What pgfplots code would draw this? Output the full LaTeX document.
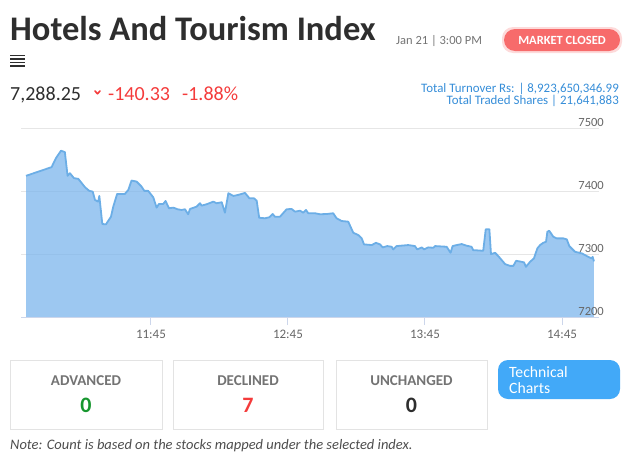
\documentclass[border=0pt]{standalone}
\usepackage{pgfplots}
\pgfplotsset{compat=1.18}
\usepackage{pgfplotstable}
\usepackage{fontspec}
\setmainfont{Carlito}
\definecolor{titlec}{HTML}{2E2E2E}
\definecolor{redc}{HTML}{F43B3B}
\definecolor{grayc}{HTML}{737373}
\definecolor{bluec}{HTML}{358DD8}
\definecolor{badgec}{HTML}{F76B6B}
\definecolor{btnc}{HTML}{42A9F8}
\definecolor{greenc}{HTML}{17962F}
\definecolor{boxc}{HTML}{E3E3E3}
\definecolor{gridc}{HTML}{E6E6E6}
\definecolor{axisc}{HTML}{CCD6EB}
\definecolor{fillc}{HTML}{7CB5EC}
\definecolor{linec}{HTML}{6CAEE6}
\definecolor{labc}{HTML}{666666}
\pgfplotstableread{
t v
650.3 7424.1
661.5 7437.9
663.4 7452.2
665.6 7463.9
667.3 7461.8
668.5 7424.1
669.5 7428.3
671.3 7420.4
673.2 7419.3
676.1 7406.1
678.0 7400.2
679.5 7399.1
680.5 7385.8
681.9 7383.1
682.4 7392.2
683.7 7347.6
685.3 7347.1
687.5 7359.2
688.5 7375.2
690.2 7395.4
693.6 7395.4
695.1 7401.8
696.5 7416.6
698.7 7415.0
700.9 7407.0
702.1 7400.2
703.8 7400.2
706.0 7390.1
707.5 7373.6
708.5 7379.5
710.4 7379.5
711.4 7384.2
712.9 7372.6
714.8 7373.6
716.7 7371.0
718.4 7369.9
719.9 7371.0
721.3 7363.1
722.1 7371.5
725.0 7375.2
726.5 7380.6
727.2 7376.8
729.4 7379.0
732.3 7383.1
733.8 7380.6
736.0 7382.2
737.4 7365.6
738.9 7396.5
741.1 7392.2
743.2 7393.8
746.2 7397.0
748.1 7388.5
750.1 7388.5
751.3 7384.7
752.4 7357.6
754.9 7356.7
756.8 7358.3
758.3 7363.5
759.3 7359.2
761.5 7359.2
764.4 7371.0
766.6 7371.5
768.1 7367.2
770.3 7368.8
771.7 7365.6
772.9 7369.9
773.9 7364.7
776.8 7364.7
779.0 7363.1
782.0 7363.5
784.8 7364.7
786.3 7356.7
788.5 7352.4
791.4 7351.3
793.6 7333.8
795.8 7330.1
797.3 7324.8
798.3 7315.3
801.7 7314.2
803.5 7317.8
805.3 7315.3
806.5 7310.5
808.5 7312.6
810.4 7311.5
811.1 7307.3
812.6 7312.6
817.7 7314.2
820.6 7312.6
821.6 7307.3
823.6 7310.5
824.6 7307.3
826.4 7310.5
828.6 7309.9
829.4 7312.6
834.5 7311.5
836.2 7301.9
837.1 7312.6
838.9 7314.2
841.1 7315.8
843.3 7313.1
845.4 7311.5
846.1 7306.2
850.5 7305.1
851.6 7339.2
853.2 7339.2
853.9 7299.8
855.7 7301.9
857.1 7296.7
860.1 7283.9
862.2 7281.2
863.7 7281.2
864.9 7289.2
867.4 7287.6
868.4 7286.6
869.2 7279.6
871.0 7287.6
872.7 7293.0
874.2 7308.9
875.4 7314.2
876.8 7317.8
878.0 7319.4
878.6 7335.4
879.4 7336.9
881.2 7327.4
882.7 7324.8
885.6 7324.8
887.1 7323.2
888.2 7312.6
890.7 7303.5
893.7 7301.0
896.5 7295.5
898.0 7293.0
898.4 7295.5
899.0 7288.3
}\pricedata
\pgfplotsset{chartgeom/.style={at={(21pt,-317pt)},anchor=south west,scale only axis,
  width=578pt,height=189pt,
  xmin=648.1,xmax=901.2,ymin=7200,ymax=7500,
  axis line style={draw=none},
  ytick={7200,7300,7400,7500},ytick style={draw=none}}}
\begin{document}
\begin{tikzpicture}[x=1pt,y=1pt]
\useasboundingbox (0,0) rectangle (629,-461);
% header
\node[anchor=base west,inner sep=0,text=titlec,font=\fontsize{34.5}{40}\selectfont\bfseries] at (10,-40) {Hotels And Tourism Index};
\foreach \yy in {55.5,59,62.5,66} \draw[titlec,line width=1.7pt] (10,-\yy) -- (25,-\yy);
\node[anchor=base west,inner sep=0,text=titlec,font=\fontsize{20}{24}\selectfont] at (10,-100.5) {7,288.25};
\draw[redc,line width=1.6pt,line cap=round,line join=round] (95,-91) -- (97.5,-93.8) -- (100,-91);
\node[anchor=base west,inner sep=0,text=redc,font=\fontsize{20}{24}\selectfont] at (108,-100.5) {-140.33};
\node[anchor=base west,inner sep=0,text=redc,font=\fontsize{20}{24}\selectfont] at (182,-100.5) {-1.88\%};
\node[anchor=base west,inner sep=0,text=grayc,font=\fontsize{12.5}{15}\selectfont] at (396,-44) {Jan 21 | 3:00 PM};
\fill[badgec!25,rounded corners=11pt] (502,-27) rectangle (622,-53);
\fill[badgec,rounded corners=11pt] (504,-29) rectangle (620,-51);
\node[anchor=base,inner sep=0,text=white,font=\fontsize{12.5}{15}\selectfont\bfseries] at (562,-44) {MARKET CLOSED};
\node[anchor=base east,inner sep=0,text=bluec,font=\fontsize{12.9}{15}\selectfont] at (619,-92) {Total Turnover Rs: | 8,923,650,346.99};
\node[anchor=base east,inner sep=0,text=bluec,font=\fontsize{12.9}{15}\selectfont] at (619,-104.5) {Total Traded Shares | 21,641,883};
% chart: data, grid and time axis
\begin{axis}[chartgeom,
  xtick={705,765,825,885},xticklabels={11:45,12:45,13:45,14:45},
  xtick pos=bottom,tick align=outside,
  major tick length=8pt,
  xtick style={draw=axisc,line width=1pt},
  yticklabels={},
  ymajorgrids,grid style={draw=gridc,line width=1pt},
  xticklabel style={text=labc,yshift=-2pt,font=\fontsize{13}{15}\selectfont},
  clip=true]
\addplot[fill=fillc,fill opacity=0.75,draw=none] table[x=t,y=v] {\pricedata} \closedcycle;
\addplot[draw=linec,line width=1.8pt,line join=round] table[x=t,y=v] {\pricedata};
\draw[axisc,line width=1pt] (rel axis cs:0,0) -- (rel axis cs:1,0);
\end{axis}
% chart: value labels drawn over the area
\begin{axis}[chartgeom,
  xtick=\empty,
  yticklabel pos=right,
  yticklabel style={anchor=south east,xshift=5pt,yshift=1.5pt,inner sep=0,text=labc,font=\fontsize{12.5}{15}\selectfont},
  /pgf/number format/assume math mode=true,
  /pgf/number format/1000 sep={}]
\end{axis}
% boxes
\draw[boxc,line width=1pt] (10,-360) rectangle (162,-429);
\draw[boxc,line width=1pt] (173,-360) rectangle (323,-429);
\draw[boxc,line width=1pt] (336,-360) rectangle (487,-429);
\node[anchor=base,inner sep=0,text=grayc,font=\fontsize{15}{18}\selectfont\bfseries] at (86,-385) {ADVANCED};
\node[anchor=base,inner sep=0,text=grayc,font=\fontsize{15}{18}\selectfont\bfseries] at (248,-385) {DECLINED};
\node[anchor=base,inner sep=0,text=grayc,font=\fontsize{15}{18}\selectfont\bfseries] at (411.5,-385) {UNCHANGED};
\node[anchor=base,inner sep=0,text=greenc,font=\fontsize{22}{26}\selectfont\bfseries] at (86,-412) {0};
\node[anchor=base,inner sep=0,text=redc,font=\fontsize{22}{26}\selectfont\bfseries] at (248,-412) {7};
\node[anchor=base,inner sep=0,text=titlec,font=\fontsize{22}{26}\selectfont\bfseries] at (411.5,-412) {0};
\fill[btnc,rounded corners=10pt] (498,-360) rectangle (620,-399);
\node[anchor=base west,inner sep=0,text=white,font=\fontsize{15.7}{18}\selectfont] at (509,-377) {Technical};
\node[anchor=base west,inner sep=0,text=white,font=\fontsize{15.7}{18}\selectfont] at (509,-393) {Charts};
\node[anchor=base west,inner sep=0,text=titlec!85,font=\fontsize{14.5}{17}\selectfont\itshape] at (10,-449) {Note: Count is based on the stocks mapped under the selected index.};
\end{tikzpicture}
\end{document}
